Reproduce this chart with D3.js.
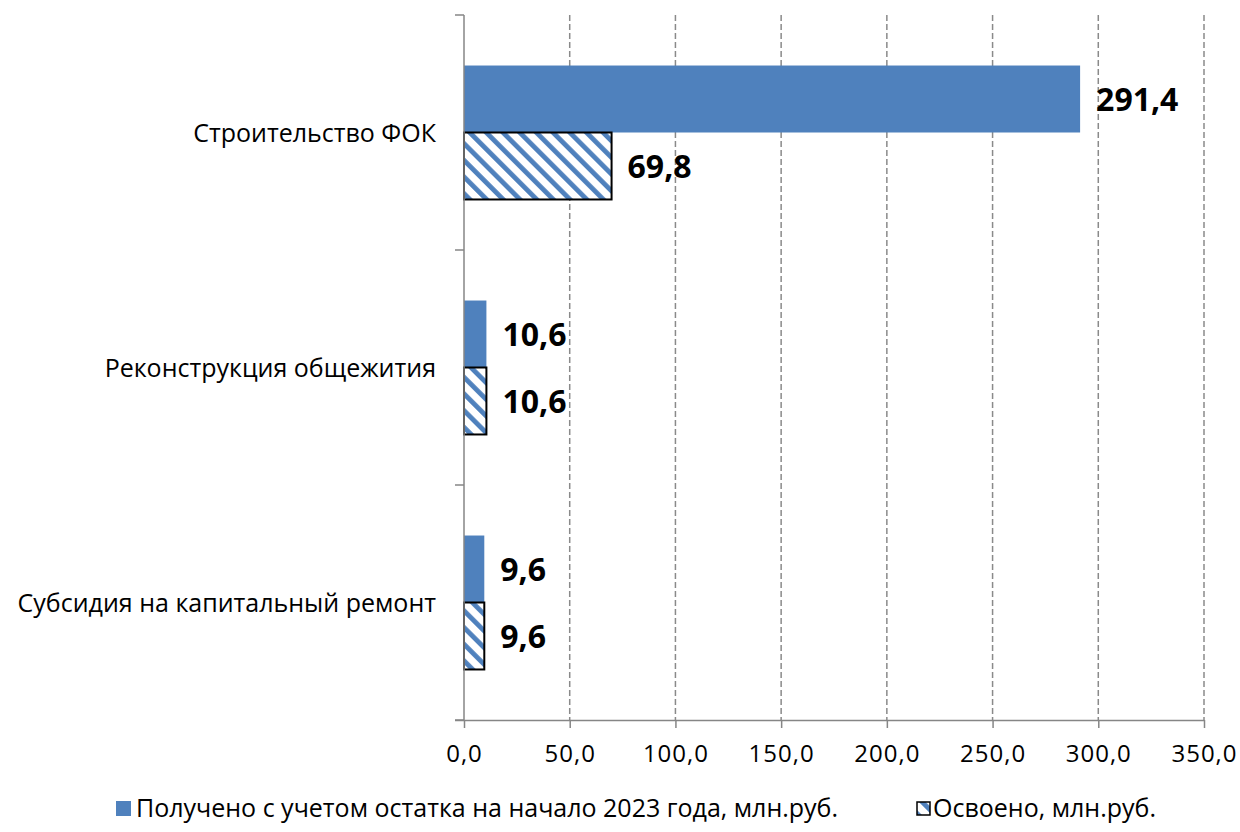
<!DOCTYPE html>
<html>
<head>
<meta charset="utf-8">
<script src="https://cdn.jsdelivr.net/npm/d3@7"></script>
<style>
  body { margin: 0; background: #fff; }
  text { font-family: "Open Sans", "Noto Sans", sans-serif; }
</style>
</head>
<body>
<svg id="chart" width="1240" height="832"></svg>
<script>
var categories = ["Строительство ФОК", "Реконструкция общежития", "Субсидия на капитальный ремонт"];
var received = [291.4, 10.6, 9.6];
var spent = [69.8, 10.6, 9.6];
var xTicks = [0, 50, 100, 150, 200, 250, 300, 350];
var seriesNames = ["Получено с учетом остатка на начало 2023 года, млн.руб.", "Освоено, млн.руб."];

var dimensions = {
    width: 1240,
    height: 832,
    margin: { top: 15, bottom: 112, right: 36, left: 464 }
}

var svg = d3.select("#chart")

var fmt = d => d.toFixed(1).replace(".", ",")

var xScale = d3.scaleLinear()
               .domain([0, 350])
               .range([dimensions.margin.left, dimensions.width - dimensions.margin.right])

var yScale = d3.scaleBand()
               .domain(categories)
               .range([dimensions.margin.top, dimensions.height - dimensions.margin.bottom])
               .paddingInner(0.43)
               .paddingOuter(0.215)

var defs = svg.append("defs")
defs.append("pattern")
    .attr("id", "hatch")
    .attr("patternUnits", "userSpaceOnUse")
    .attr("width", 11.8)
    .attr("height", 11.8)
    .attr("patternTransform", "rotate(-45)")
    .call(p => {
        p.append("rect").attr("width", 11.8).attr("height", 11.8).attr("fill", "#fff")
        p.append("rect").attr("width", 4.8).attr("height", 11.8).attr("fill", "#4F81BD")
    })

// gridlines
svg.append("g")
   .selectAll("line")
   .data(xTicks.slice(1))
   .enter()
   .append("line")
   .attr("x1", d => xScale(d)).attr("x2", d => xScale(d))
   .attr("y1", dimensions.margin.top)
   .attr("y2", dimensions.height - dimensions.margin.bottom)
   .attr("stroke", "#8a8a8a")
   .attr("stroke-width", 1.5)
   .attr("stroke-dasharray", "6,3")

var bandH = yScale.bandwidth() / 2

// received bars
svg.append("g")
   .selectAll("rect")
   .data(categories)
   .enter()
   .append("rect")
   .attr("x", xScale(0))
   .attr("y", d => yScale(d))
   .attr("width", (d, i) => xScale(received[i]) - xScale(0))
   .attr("height", bandH)
   .attr("fill", "#4F81BD")

// spent bars
svg.append("g")
   .selectAll("rect")
   .data(categories)
   .enter()
   .append("rect")
   .attr("x", xScale(0))
   .attr("y", d => yScale(d) + bandH)
   .attr("width", (d, i) => xScale(spent[i]) - xScale(0))
   .attr("height", bandH)
   .attr("fill", "url(#hatch)")
   .attr("stroke", "#000")
   .attr("stroke-width", 2)

// value labels
var labels = svg.append("g")
                .style("font-weight", "bold")
                .style("font-size", "32px")
labels.selectAll(".r")
      .data(categories)
      .enter()
      .append("text")
      .attr("x", (d, i) => xScale(received[i]) + 16)
      .attr("y", d => yScale(d) + bandH / 2)
      .attr("dy", "0.36em")
      .text((d, i) => fmt(received[i]))
labels.selectAll(".s")
      .data(categories)
      .enter()
      .append("text")
      .attr("x", (d, i) => xScale(spent[i]) + 16)
      .attr("y", d => yScale(d) + bandH * 1.5)
      .attr("dy", "0.36em")
      .text((d, i) => fmt(spent[i]))

// x axis
var xAxisGen = d3.axisBottom(xScale).tickValues(xTicks).tickFormat(fmt).tickSizeInner(8).tickSizeOuter(0).tickPadding(17)
var xAxis = svg.append("g")
               .attr("transform", `translate(0,${dimensions.height - dimensions.margin.bottom})`)
               .call(xAxisGen)
xAxis.select(".domain").attr("stroke", "#868686").attr("stroke-width", 1.5)
     .attr("d", `M${xScale(0) - 9},0.5H${xScale(350)}`)
xAxis.selectAll(".tick line").attr("stroke", "#868686").attr("stroke-width", 1.5)
xAxis.selectAll("text").style("font-size", "24px").attr("fill", "#000")
     .style("letter-spacing", "1px")
     .style("font-family", "'Open Sans', sans-serif")

// y axis
var yAxis = svg.append("g")
yAxis.append("line")
     .attr("x1", xScale(0)).attr("x2", xScale(0))
     .attr("y1", dimensions.margin.top).attr("y2", dimensions.height - dimensions.margin.bottom)
     .attr("stroke", "#868686").attr("stroke-width", 1.5)
var step = yScale.step()
var bounds = categories.map(d => yScale(d) - (step - yScale.bandwidth()) / 2)
bounds.push(dimensions.height - dimensions.margin.bottom)
yAxis.selectAll(".yt")
     .data(bounds)
     .enter()
     .append("line")
     .attr("x1", xScale(0) - 9).attr("x2", xScale(0))
     .attr("y1", d => d).attr("y2", d => d)
     .attr("stroke", "#868686").attr("stroke-width", 1.5)
yAxis.selectAll("text")
     .data(categories)
     .enter()
     .append("text")
     .attr("x", xScale(0) - 28)
     .attr("y", d => yScale(d) + yScale.bandwidth() / 2)
     .attr("dy", "0.36em")
     .attr("text-anchor", "end")
     .style("font-size", "25px")
     .text(d => d)

// legend
var legend = svg.append("g").style("font-size", "25px")
legend.append("rect").attr("x", 116).attr("y", 801).attr("width", 15).attr("height", 15).attr("fill", "#4F81BD")
legend.append("text").attr("x", 136).attr("y", 808).attr("dy", "0.36em").text(seriesNames[0])
legend.append("rect").attr("x", 917).attr("y", 802).attr("width", 13).attr("height", 13)
      .attr("fill", "url(#hatch)").attr("stroke", "#000").attr("stroke-width", 1.5)
legend.append("text").attr("x", 933).attr("y", 808).attr("dy", "0.36em").text(seriesNames[1])
</script>
</body>
</html>
